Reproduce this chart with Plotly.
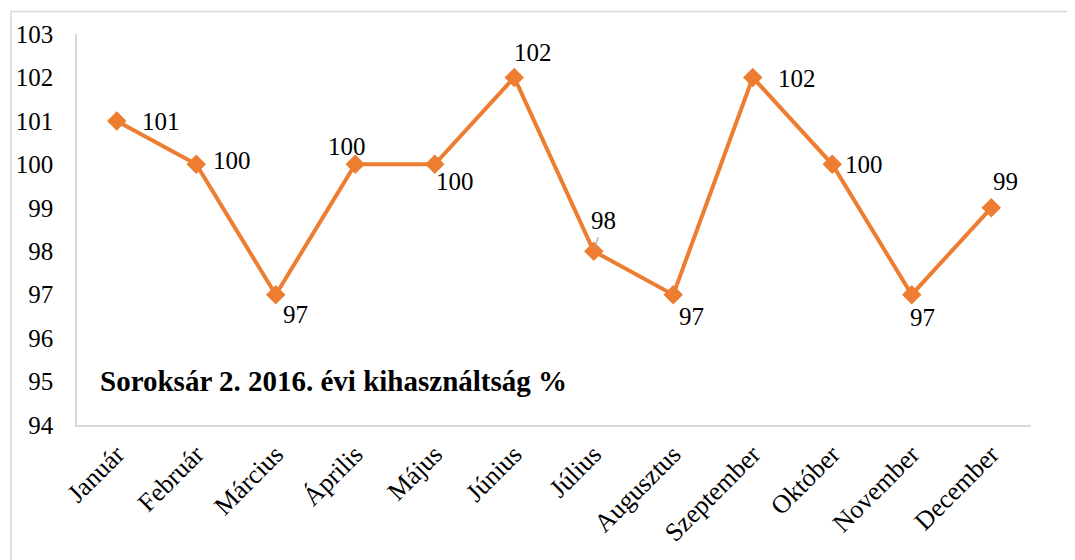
import plotly.graph_objects as go

months = ["Január", "Február", "Március", "Április", "Május", "Június",
          "Július", "Augusztus", "Szeptember", "Október", "November", "December"]
values = [101, 100, 97, 100, 100, 102, 98, 97, 102, 100, 97, 99]
y_ticks = [94, 95, 96, 97, 98, 99, 100, 101, 102, 103]
title_text = "Soroksár 2. 2016. évi kihasználtság %"

# label offsets (pixels) relative to each point
label_shift = [(44, -1), (36, 4), (20, -20), (-8, 18), (20, -17), (19, 25),
               (10, 31), (18, -22), (44, -1), (32, 0), (11, -23), (14, 26)]

ORANGE = "#ED7D31"
FONT = "Liberation Serif"

fig = go.Figure()
fig.add_trace(go.Scatter(
    x=months, y=values, mode="lines+markers",
    line=dict(color=ORANGE, width=4),
    marker=dict(symbol="diamond", size=15, color=ORANGE),
    hoverinfo="x+y", showlegend=False,
))

for i, (m, v) in enumerate(zip(months, values)):
    dx, dy = label_shift[i]
    if m == "Július":
        fig.add_annotation(x=m, y=v, text=str(v), showarrow=True, ax=dx, ay=-dy,
                           arrowhead=0, arrowwidth=1.2, arrowcolor="#A6A6A6",
                           standoff=4, startstandoff=2,
                           font=dict(family=FONT, size=25, color="black"))
    else:
        fig.add_annotation(x=m, y=v, text=str(v), showarrow=False,
                           xshift=dx, yshift=dy,
                           font=dict(family=FONT, size=25, color="black"))

fig.add_annotation(xref="paper", yref="paper", x=0.0215, y=0.112, xanchor="left",
                   yanchor="middle", text="<b>" + title_text + "</b>", showarrow=False,
                   font=dict(family=FONT, size=29, color="black"))

# outer chart border
fig.add_shape(type="rect", xref="paper", yref="paper",
              x0=-0.0692, y0=-0.36, x1=1.06, y1=1.0575,
              line=dict(color="#D9D9D9", width=1.5), layer="below")

fig.update_layout(
    width=1075, height=560,
    margin=dict(l=69, r=52, t=26, b=143),
    paper_bgcolor="white", plot_bgcolor="white",
    font=dict(family=FONT, size=25, color="black"),
)
fig.update_xaxes(
    range=[-0.5, len(months) - 0.5], automargin=False,
    showgrid=False, showline=True, linecolor="#D9D9D9", linewidth=1.5,
    tickangle=-45, ticks="", tickfont=dict(family=FONT, size=26, color="black"),
    ticklabelstandoff=2,
)
fig.update_yaxes(
    range=[94, 103], tickvals=y_ticks, showgrid=False, showline=True, automargin=False,
    linecolor="#D9D9D9", linewidth=1.5, ticks="", zeroline=False,
    tickfont=dict(family=FONT, size=25, color="black"), ticklabelstandoff=17,
)

fig.write_html("out.html")
